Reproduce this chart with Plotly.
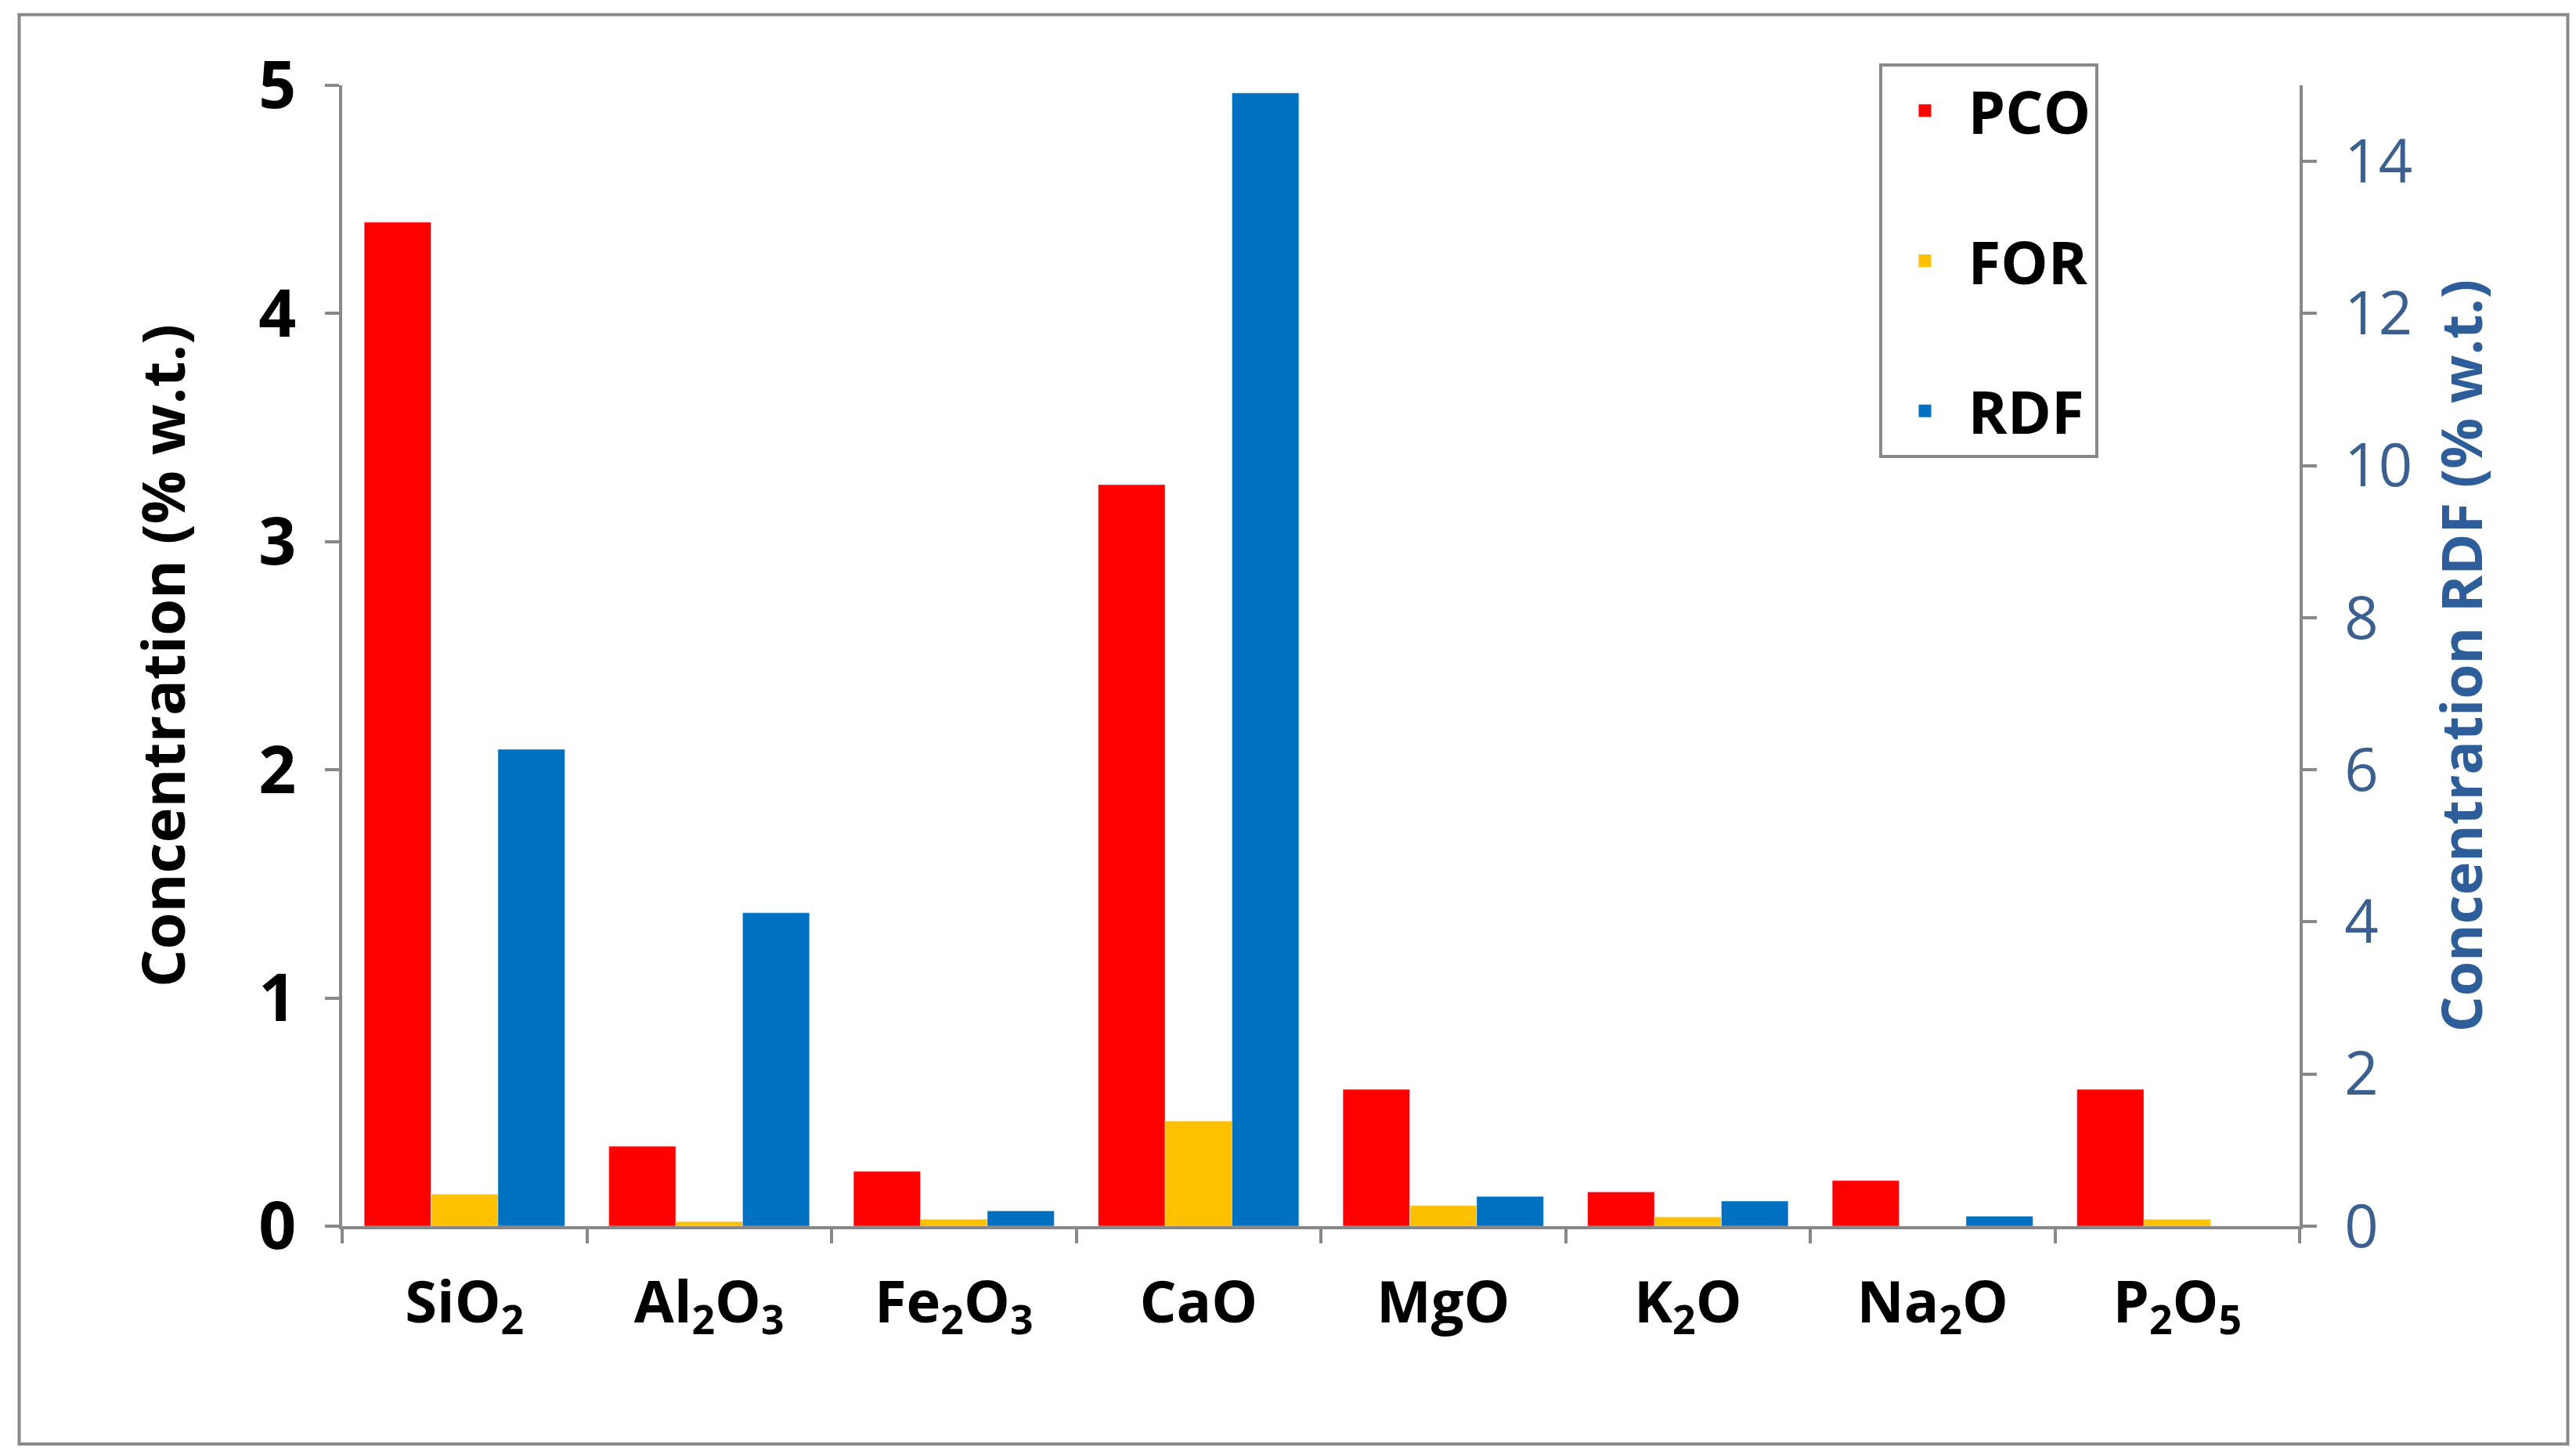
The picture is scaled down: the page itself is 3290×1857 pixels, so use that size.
import plotly.graph_objects as go

categories = ["SiO<sub>2</sub>", "Al<sub>2</sub>O<sub>3</sub>", "Fe<sub>2</sub>O<sub>3</sub>", "CaO",
              "MgO", "K<sub>2</sub>O", "Na<sub>2</sub>O", "P<sub>2</sub>O<sub>5</sub>"]
pco = [4.4, 0.35, 0.24, 3.25, 0.6, 0.15, 0.2, 0.6]
fore = [0.14, 0.02, 0.03, 0.46, 0.09, 0.04, 0.0, 0.03]
rdf = [6.27, 4.12, 0.2, 14.9, 0.39, 0.33, 0.13, 0.0]
names = ["PCO", "FOR", "RDF"]
colors = ["#FF0000", "#FFC000", "#0070C0"]

F = "Open Sans"
fig = go.Figure()
fig.add_trace(go.Bar(x=categories, y=pco, name="PCO", marker_color=colors[0], offsetgroup="a", showlegend=False))
fig.add_trace(go.Bar(x=categories, y=fore, name="FOR", marker_color=colors[1], offsetgroup="b", showlegend=False))
fig.add_trace(go.Bar(x=categories, y=rdf, name="RDF", marker_color=colors[2], offsetgroup="c", yaxis="y2", showlegend=False))
for n, c in zip(names, colors):
    fig.add_trace(go.Scatter(x=[None], y=[None], mode="markers", name=n, legendgroup=n,
                             marker=dict(symbol="square", size=52, color=c)))

fig.update_layout(
    width=3290, height=1857, paper_bgcolor="white", plot_bgcolor="white",
    margin=dict(l=429, r=361, t=101, b=299),
    barmode="group", bargap=0.18, bargroupgap=0,
    font=dict(family=F, color="black"),
    xaxis=dict(showline=True, linecolor="#888888", linewidth=4, ticks="outside", tickson="boundaries",
               ticklen=18, tickwidth=4, tickcolor="#888888",
               tickfont=dict(size=74, family=F, weight="bold"), ticklabelstandoff=30),
    yaxis=dict(range=[0, 5], dtick=1, showline=True, linecolor="#888888", linewidth=4, ticks="outside",
               ticklen=18, tickwidth=4, tickcolor="#888888", showgrid=False, zeroline=False,
               tickfont=dict(size=84, family=F, weight="bold"), ticklabelstandoff=20,
               title=dict(text="Concentration (% w.t.)", font=dict(size=76, family=F, weight="bold"), standoff=70)),
    yaxis2=dict(range=[0, 15], tickvals=[0, 2, 4, 6, 8, 10, 12, 14], overlaying="y", side="right",
                showline=True, linecolor="#888888", linewidth=4, ticks="outside", ticklen=18, tickwidth=4,
                tickcolor="#888888", showgrid=False, zeroline=False,
                tickfont=dict(size=76, family=F, color="#3B5F8F"), ticklabelstandoff=20,
                title=dict(text="Concentration RDF (% w.t.)", font=dict(size=72, family=F, weight="bold", color="#2E5E9A"), standoff=40)),
    legend=dict(x=0.785, y=1.019, xanchor="left", yanchor="top", bordercolor="#888888", borderwidth=4,
                font=dict(size=76, family=F, weight="bold"), tracegroupgap=90, bgcolor="white",
                itemwidth=100, entrywidth=400),
    shapes=[dict(type="rect", xref="paper", yref="paper", x0=-0.165, x1=1.137, y0=-0.191, y1=1.062,
                 line=dict(color="#888888", width=4))],
)
fig.write_html("out.html")
